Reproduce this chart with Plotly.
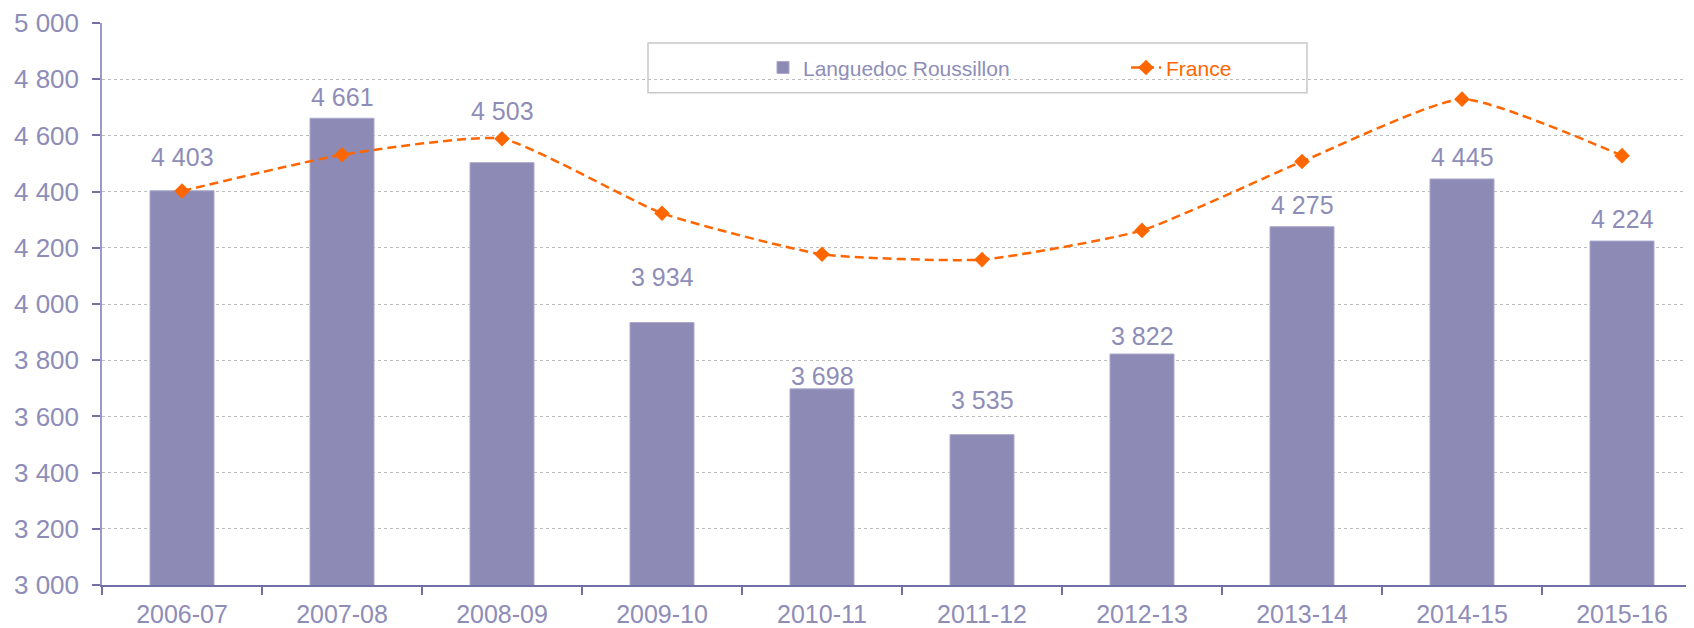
import plotly.graph_objects as go

categories = ["2006-07", "2007-08", "2008-09", "2009-10", "2010-11",
              "2011-12", "2012-13", "2013-14", "2014-15", "2015-16"]
lr_values = [4403, 4661, 4503, 3934, 3698, 3535, 3822, 4275, 4445, 4224]
france_values = [4402, 4531, 4588, 4323, 4177, 4158, 4262, 4507, 4729, 4528]
y_ticks = [3000, 3200, 3400, 3600, 3800, 4000, 4200, 4400, 4600, 4800, 5000]

# pixel offsets of the bar value labels above the bar tops (style only)
label_shift = [34, 21, 52, 46, 13, 35, 18, 22, 22, 22]

BAR = "#8D8BB5"
TXT = "#8E8DB8"
AXIS = "#7070A6"
ORANGE = "#FF6600"
FONT = "Liberation Sans, Arial, sans-serif"

# page has an 8px body margin; figure sized to compensate
W, H = 1686, 620
L, T, B = 94, 14, 42
PW, PH = W - L, H - T - B

fig = go.Figure()
fig.add_trace(go.Bar(
    x=categories, y=lr_values, name="Languedoc Roussillon",
    marker=dict(color=BAR, line=dict(color="#A9A8CC", width=1)),
    width=0.4,
))
fig.add_trace(go.Scatter(
    x=categories, y=france_values, name="<span style='color:#FF6600'>France</span>",
    mode="lines+markers",
    line=dict(color=ORANGE, width=2.5, dash="9px,5px", shape="spline", smoothing=0.5),
    marker=dict(symbol="diamond", size=12, color=ORANGE),
))

for c, v, s in zip(categories, lr_values, label_shift):
    fig.add_annotation(
        x=c, y=v, text=f"{v:,}".replace(",", " "), showarrow=False,
        yshift=s, font=dict(family=FONT, size=25, color=TXT),
        xanchor="center", yanchor="middle",
    )

def px(xp):
    return (xp - 8 - L) / PW

def py(yp):
    return 1 - (yp - 8 - T) / PH

fig.add_shape(type="rect", xref="paper", yref="paper",
              x0=px(648), x1=px(1307), y0=py(92), y1=py(42),
              line=dict(color="#C8C8C8", width=1.5), fillcolor="white", layer="below")

fig.update_layout(
    width=W, height=H,
    margin=dict(l=L, r=0, t=T, b=B),
    paper_bgcolor="white", plot_bgcolor="white",
    separators=", ",
    font=dict(family=FONT, size=25, color=TXT),
    showlegend=True,
    legend=dict(
        orientation="h", x=px(763), xanchor="left",
        y=py(67), yanchor="middle",
        font=dict(family=FONT, size=21, color=TXT),
        bgcolor="rgba(0,0,0,0)", borderwidth=0,
        entrywidth=318, entrywidthmode="pixels",
        traceorder="normal", itemwidth=30,
    ),
    xaxis=dict(
        type="category",
        range=[-0.5, 9.45], showgrid=False,
        showline=True, linecolor=AXIS, linewidth=1.5,
        ticks="outside", tickson="boundaries", ticklen=8, tickcolor=AXIS, tickwidth=1.5,
        tickfont=dict(family=FONT, size=25, color=TXT),
        ticklabelstandoff=6,
    ),
    yaxis=dict(
        range=[3000, 5000], tickvals=y_ticks, tickformat=",d",
        showgrid=True, gridcolor="#BDBDBD", griddash="dot", gridwidth=1,
        showline=True, linecolor="#9A9AC4", linewidth=1.5,
        ticks="outside", ticklen=8, tickcolor=AXIS, tickwidth=1.5,
        tickfont=dict(family=FONT, size=26, color=TXT),
        ticklabelstandoff=8, zeroline=False, ticklabeloverflow="allow",
    ),
)

fig.write_html("out.html")
